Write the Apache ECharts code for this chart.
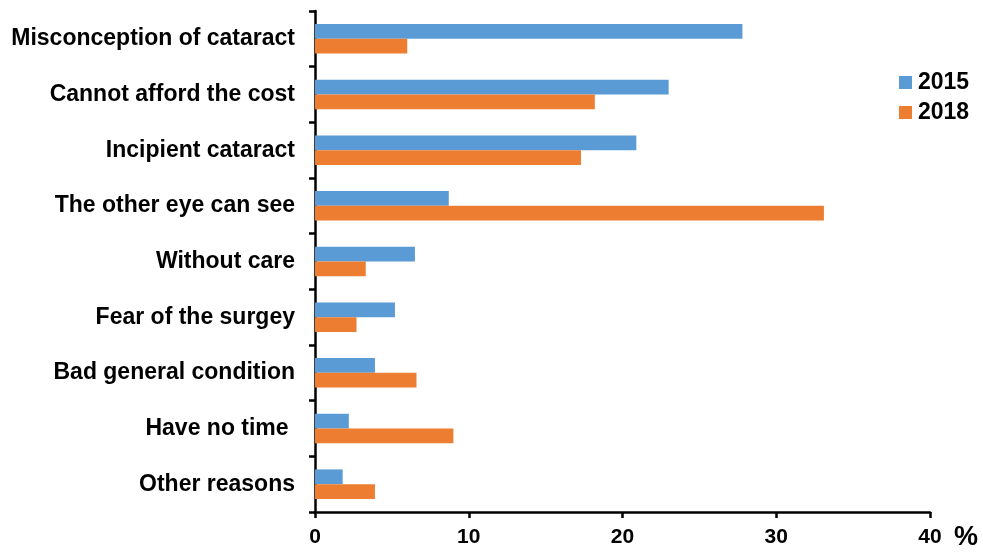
<!DOCTYPE html>
<html>
<head>
<meta charset="utf-8">
<script src="https://cdn.jsdelivr.net/npm/echarts@6/dist/echarts.min.js"></script>
<style>
  html, body { margin: 0; padding: 0; background: #fff; }
  #chart { width: 983px; height: 557px; }
</style>
</head>
<body>
<div id="chart"></div>
<script>
// Reasons for not having cataract surgery, share of respondents (%)
const categories = [
  'Misconception of cataract',
  'Cannot afford the cost',
  'Incipient cataract',
  'The other eye can see',
  'Without care',
  'Fear of the surgey',
  'Bad general condition',
  'Have no time ',
  'Other reasons'
];
const values2015 = [27.8, 23.0, 20.9, 8.7, 6.5, 5.2, 3.9, 2.2, 1.8];
const values2018 = [6.0, 18.2, 17.3, 33.1, 3.3, 2.7, 6.6, 9.0, 3.9];
const xTicks = [0, 10, 20, 30, 40];

const chart = echarts.init(document.getElementById('chart'), null, { renderer: 'canvas' });

const font = 'Liberation Sans, Arial, sans-serif';
const axisLine = { show: true, lineStyle: { color: '#000', width: 2.5 } };
const axisTick = { show: true, length: 6, lineStyle: { color: '#000', width: 2.5 } };

chart.setOption({
  backgroundColor: '#fff',
  animation: false,
  grid: { left: 315, right: 53, top: 11, bottom: 45, containLabel: false },
  legend: {
    orient: 'vertical',
    left: 894,
    top: 66,
    itemWidth: 13,
    itemHeight: 13,
    itemGap: 7,
    icon: 'rect',
    textStyle: { fontFamily: font, fontWeight: 'bold', fontSize: 23, color: '#000', padding: [0, 0, 0, 1] },
    data: ['2015', '2018']
  },
  xAxis: {
    type: 'value',
    min: xTicks[0],
    max: xTicks[xTicks.length - 1],
    interval: 10,
    name: '%',
    nameLocation: 'end',
    nameGap: 24,
    nameTextStyle: { fontFamily: font, fontWeight: 'bold', fontSize: 27, color: '#000', verticalAlign: 'top', padding: [12, 0, 0, 0] },
    axisLine: axisLine,
    axisTick: axisTick,
    splitLine: { show: false },
    axisLabel: {
      margin: 15,
      fontFamily: font,
      fontWeight: 'bold',
      fontSize: 21,
      color: '#000'
    }
  },
  yAxis: {
    type: 'category',
    data: categories,
    inverse: true,
    axisLine: axisLine,
    axisTick: axisTick,
    axisLabel: {
      margin: 20,
      fontFamily: font,
      fontWeight: 'bold',
      fontSize: 23,
      color: '#000'
    }
  },
  series: [
    {
      name: '2015',
      type: 'bar',
      data: values2015,
      itemStyle: { color: '#5B9BD5' },
      barGap: '0%',
      barCategoryGap: '47%'
    },
    {
      name: '2018',
      type: 'bar',
      data: values2018,
      itemStyle: { color: '#ED7D31' },
      barGap: '0%',
      barCategoryGap: '47%'
    }
  ]
});
</script>
</body>
</html>
